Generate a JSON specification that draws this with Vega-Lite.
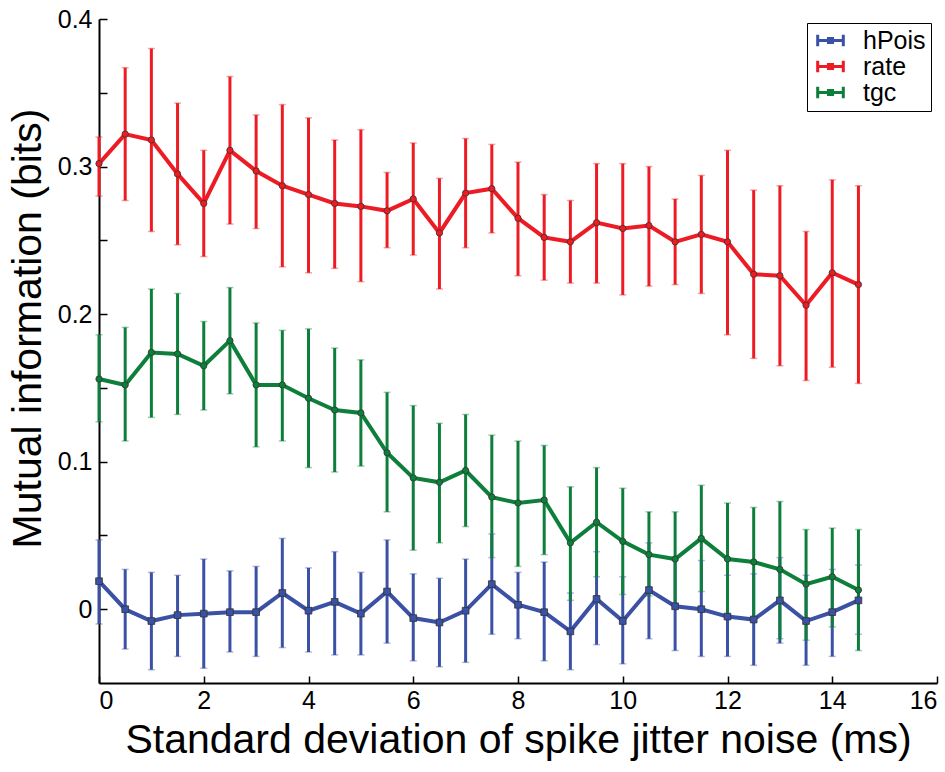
{
  "$schema": "https://vega.github.io/schema/vega-lite/v6.json",
  "autosize": "none",
  "width": 838,
  "height": 664,
  "padding": {"left": 99, "top": 19, "right": 8, "bottom": 89},
  "background": "white",
  "config": {
    "view": {"stroke": null},
    "font": "Liberation Sans",
    "axis": {
      "domainColor": "black",
      "domainWidth": 2,
      "tickColor": "black",
      "tickWidth": 1.5,
      "grid": false,
      "labelColor": "black",
      "titleColor": "black",
      "labelFont": "Liberation Sans",
      "titleFont": "Liberation Sans",
      "labelFontSize": 25,
      "titleFontWeight": "normal"
    },
    "legend": {
      "labelFont": "Liberation Sans",
      "labelFontSize": 25,
      "labelColor": "black"
    }
  },
  "data": {
    "values": [
      {"x": 0, "s": "hPois", "m": 0.019, "lo": -0.010, "hi": 0.047},
      {"x": 0.5, "s": "hPois", "m": 0.000, "lo": -0.027, "hi": 0.027},
      {"x": 1, "s": "hPois", "m": -0.008, "lo": -0.041, "hi": 0.025},
      {"x": 1.5, "s": "hPois", "m": -0.004, "lo": -0.032, "hi": 0.023},
      {"x": 2, "s": "hPois", "m": -0.003, "lo": -0.040, "hi": 0.034},
      {"x": 2.5, "s": "hPois", "m": -0.002, "lo": -0.029, "hi": 0.026},
      {"x": 3, "s": "hPois", "m": -0.002, "lo": -0.032, "hi": 0.029},
      {"x": 3.5, "s": "hPois", "m": 0.011, "lo": -0.026, "hi": 0.048},
      {"x": 4, "s": "hPois", "m": -0.001, "lo": -0.029, "hi": 0.028},
      {"x": 4.5, "s": "hPois", "m": 0.005, "lo": -0.031, "hi": 0.039},
      {"x": 5, "s": "hPois", "m": -0.003, "lo": -0.031, "hi": 0.025},
      {"x": 5.5, "s": "hPois", "m": 0.012, "lo": -0.023, "hi": 0.047},
      {"x": 6, "s": "hPois", "m": -0.006, "lo": -0.035, "hi": 0.024},
      {"x": 6.5, "s": "hPois", "m": -0.009, "lo": -0.039, "hi": 0.021},
      {"x": 7, "s": "hPois", "m": -0.001, "lo": -0.036, "hi": 0.034},
      {"x": 7.5, "s": "hPois", "m": 0.017, "lo": -0.017, "hi": 0.051},
      {"x": 8, "s": "hPois", "m": 0.003, "lo": -0.020, "hi": 0.025},
      {"x": 8.5, "s": "hPois", "m": -0.002, "lo": -0.035, "hi": 0.032},
      {"x": 9, "s": "hPois", "m": -0.015, "lo": -0.041, "hi": 0.011},
      {"x": 9.5, "s": "hPois", "m": 0.007, "lo": -0.024, "hi": 0.039},
      {"x": 10, "s": "hPois", "m": -0.008, "lo": -0.037, "hi": 0.022},
      {"x": 10.5, "s": "hPois", "m": 0.013, "lo": -0.020, "hi": 0.045},
      {"x": 11, "s": "hPois", "m": 0.002, "lo": -0.028, "hi": 0.033},
      {"x": 11.5, "s": "hPois", "m": 0.000, "lo": -0.032, "hi": 0.033},
      {"x": 12, "s": "hPois", "m": -0.005, "lo": -0.032, "hi": 0.023},
      {"x": 12.5, "s": "hPois", "m": -0.007, "lo": -0.038, "hi": 0.024},
      {"x": 13, "s": "hPois", "m": 0.006, "lo": -0.023, "hi": 0.035},
      {"x": 13.5, "s": "hPois", "m": -0.008, "lo": -0.038, "hi": 0.023},
      {"x": 14, "s": "hPois", "m": -0.002, "lo": -0.032, "hi": 0.027},
      {"x": 14.5, "s": "hPois", "m": 0.006, "lo": -0.017, "hi": 0.030},
      {"x": 0, "s": "rate", "m": 0.302, "lo": 0.280, "hi": 0.320},
      {"x": 0.5, "s": "rate", "m": 0.322, "lo": 0.277, "hi": 0.367},
      {"x": 1, "s": "rate", "m": 0.318, "lo": 0.256, "hi": 0.380},
      {"x": 1.5, "s": "rate", "m": 0.295, "lo": 0.247, "hi": 0.343},
      {"x": 2, "s": "rate", "m": 0.275, "lo": 0.239, "hi": 0.311},
      {"x": 2.5, "s": "rate", "m": 0.311, "lo": 0.261, "hi": 0.361},
      {"x": 3, "s": "rate", "m": 0.297, "lo": 0.258, "hi": 0.335},
      {"x": 3.5, "s": "rate", "m": 0.287, "lo": 0.232, "hi": 0.342},
      {"x": 4, "s": "rate", "m": 0.281, "lo": 0.228, "hi": 0.333},
      {"x": 4.5, "s": "rate", "m": 0.275, "lo": 0.231, "hi": 0.318},
      {"x": 5, "s": "rate", "m": 0.273, "lo": 0.222, "hi": 0.325},
      {"x": 5.5, "s": "rate", "m": 0.270, "lo": 0.245, "hi": 0.296},
      {"x": 6, "s": "rate", "m": 0.278, "lo": 0.240, "hi": 0.316},
      {"x": 6.5, "s": "rate", "m": 0.255, "lo": 0.217, "hi": 0.292},
      {"x": 7, "s": "rate", "m": 0.282, "lo": 0.245, "hi": 0.319},
      {"x": 7.5, "s": "rate", "m": 0.285, "lo": 0.255, "hi": 0.315},
      {"x": 8, "s": "rate", "m": 0.265, "lo": 0.226, "hi": 0.303},
      {"x": 8.5, "s": "rate", "m": 0.252, "lo": 0.223, "hi": 0.281},
      {"x": 9, "s": "rate", "m": 0.249, "lo": 0.221, "hi": 0.277},
      {"x": 9.5, "s": "rate", "m": 0.262, "lo": 0.221, "hi": 0.302},
      {"x": 10, "s": "rate", "m": 0.258, "lo": 0.213, "hi": 0.302},
      {"x": 10.5, "s": "rate", "m": 0.260, "lo": 0.219, "hi": 0.300},
      {"x": 11, "s": "rate", "m": 0.249, "lo": 0.220, "hi": 0.278},
      {"x": 11.5, "s": "rate", "m": 0.254, "lo": 0.214, "hi": 0.294},
      {"x": 12, "s": "rate", "m": 0.249, "lo": 0.186, "hi": 0.311},
      {"x": 12.5, "s": "rate", "m": 0.227, "lo": 0.170, "hi": 0.284},
      {"x": 13, "s": "rate", "m": 0.226, "lo": 0.165, "hi": 0.287},
      {"x": 13.5, "s": "rate", "m": 0.206, "lo": 0.155, "hi": 0.256},
      {"x": 14, "s": "rate", "m": 0.228, "lo": 0.164, "hi": 0.291},
      {"x": 14.5, "s": "rate", "m": 0.220, "lo": 0.153, "hi": 0.287},
      {"x": 0, "s": "tgc", "m": 0.156, "lo": 0.127, "hi": 0.186},
      {"x": 0.5, "s": "tgc", "m": 0.152, "lo": 0.114, "hi": 0.191},
      {"x": 1, "s": "tgc", "m": 0.174, "lo": 0.130, "hi": 0.217},
      {"x": 1.5, "s": "tgc", "m": 0.173, "lo": 0.132, "hi": 0.214},
      {"x": 2, "s": "tgc", "m": 0.165, "lo": 0.135, "hi": 0.195},
      {"x": 2.5, "s": "tgc", "m": 0.182, "lo": 0.146, "hi": 0.218},
      {"x": 3, "s": "tgc", "m": 0.152, "lo": 0.110, "hi": 0.194},
      {"x": 3.5, "s": "tgc", "m": 0.152, "lo": 0.114, "hi": 0.189},
      {"x": 4, "s": "tgc", "m": 0.143, "lo": 0.096, "hi": 0.190},
      {"x": 4.5, "s": "tgc", "m": 0.135, "lo": 0.093, "hi": 0.177},
      {"x": 5, "s": "tgc", "m": 0.133, "lo": 0.097, "hi": 0.169},
      {"x": 5.5, "s": "tgc", "m": 0.106, "lo": 0.066, "hi": 0.147},
      {"x": 6, "s": "tgc", "m": 0.089, "lo": 0.040, "hi": 0.138},
      {"x": 6.5, "s": "tgc", "m": 0.086, "lo": 0.045, "hi": 0.126},
      {"x": 7, "s": "tgc", "m": 0.094, "lo": 0.056, "hi": 0.132},
      {"x": 7.5, "s": "tgc", "m": 0.076, "lo": 0.035, "hi": 0.118},
      {"x": 8, "s": "tgc", "m": 0.072, "lo": 0.029, "hi": 0.114},
      {"x": 8.5, "s": "tgc", "m": 0.074, "lo": 0.037, "hi": 0.111},
      {"x": 9, "s": "tgc", "m": 0.045, "lo": 0.006, "hi": 0.083},
      {"x": 9.5, "s": "tgc", "m": 0.059, "lo": 0.022, "hi": 0.096},
      {"x": 10, "s": "tgc", "m": 0.046, "lo": 0.010, "hi": 0.082},
      {"x": 10.5, "s": "tgc", "m": 0.037, "lo": 0.009, "hi": 0.066},
      {"x": 11, "s": "tgc", "m": 0.034, "lo": 0.003, "hi": 0.066},
      {"x": 11.5, "s": "tgc", "m": 0.048, "lo": 0.012, "hi": 0.084},
      {"x": 12, "s": "tgc", "m": 0.034, "lo": -0.003, "hi": 0.072},
      {"x": 12.5, "s": "tgc", "m": 0.032, "lo": -0.005, "hi": 0.069},
      {"x": 13, "s": "tgc", "m": 0.027, "lo": -0.020, "hi": 0.073},
      {"x": 13.5, "s": "tgc", "m": 0.017, "lo": -0.021, "hi": 0.054},
      {"x": 14, "s": "tgc", "m": 0.022, "lo": -0.012, "hi": 0.055},
      {"x": 14.5, "s": "tgc", "m": 0.013, "lo": -0.028, "hi": 0.054}
    ]
  },
  "encoding": {
    "x": {
      "field": "x",
      "type": "quantitative",
      "scale": {"domain": [0, 16], "nice": false},
      "axis": {
        "title": "Standard deviation of spike jitter noise (ms)",
        "titleFontSize": 41,
        "values": [0, 2, 4, 6, 8, 10, 12, 14, 16],
        "tickSize": -7,
        "labelPadding": 12,
        "titlePadding": 7
      }
    },
    "color": {
      "field": "s",
      "type": "nominal",
      "scale": {"domain": ["hPois", "rate", "tgc"], "range": ["#3a51a5", "#ed1c24", "#0e7f3b"]},
      "legend": {
        "title": null,
        "orient": "none",
        "legendX": 708,
        "legendY": 4,
        "strokeColor": "black",
        "fillColor": "white",
        "padding": 5,
        "rowPadding": -3,
        "symbolType": "M-1.25,0H1.25M-1.25,-0.55V0.55M1.25,-0.55V0.55M-0.2,-0.2H0.2V0.2H-0.2Z",
        "symbolSize": 420,
        "symbolStrokeWidth": 3,
        "symbolOffset": 6,
        "symbolFillColor": "transparent",
        "labelOffset": 20,
        "encode": {
          "symbols": {"update": {"stroke": {"scale": "color", "field": "value"}, "fill": {"value": "transparent"}, "opacity": {"value": 1}}}
        }
      }
    }
  },
  "layer": [
    {
      "mark": {"type": "rule", "strokeWidth": 3},
      "encoding": {
        "y": {
          "field": "lo",
          "type": "quantitative",
          "scale": {"domain": [-0.05, 0.4], "nice": false, "zero": false},
          "axis": {
            "title": "Mutual information (bits)",
            "titleFontSize": 41,
            "values": [0, 0.05, 0.1, 0.15, 0.2, 0.25, 0.3, 0.35, 0.4],
            "labelExpr": "round(datum.value * 20) % 2 == 0 ? format(datum.value, '.1~f') : ''",
            "tickSize": -8,
            "labelPadding": 15,
            "titlePadding": 8,
            "titleY": 309
          }
        },
        "y2": {"field": "hi"}
      }
    },
    {
      "mark": {"type": "tick", "thickness": 1.5, "size": 7, "opacity": 0.4, "orient": "horizontal"},
      "encoding": {"y": {"field": "lo", "type": "quantitative"}}
    },
    {
      "mark": {"type": "tick", "thickness": 1.5, "size": 7, "opacity": 0.4, "orient": "horizontal"},
      "encoding": {"y": {"field": "hi", "type": "quantitative"}}
    },
    {
      "mark": {"type": "line", "strokeWidth": 4},
      "encoding": {"y": {"field": "m", "type": "quantitative"}}
    },
    {
      "transform": [{"filter": "datum.s == 'hPois'"}],
      "mark": {"type": "point", "shape": "square", "filled": true, "stroke": "#333333", "strokeWidth": 0.8, "opacity": 1, "size": 45},
      "encoding": {"y": {"field": "m", "type": "quantitative"}}
    },
    {
      "transform": [{"filter": "datum.s != 'hPois'"}],
      "mark": {"type": "point", "shape": "circle", "filled": true, "stroke": "#333333", "strokeWidth": 0.8, "opacity": 1, "size": 40},
      "encoding": {"y": {"field": "m", "type": "quantitative"}}
    }
  ]
}
